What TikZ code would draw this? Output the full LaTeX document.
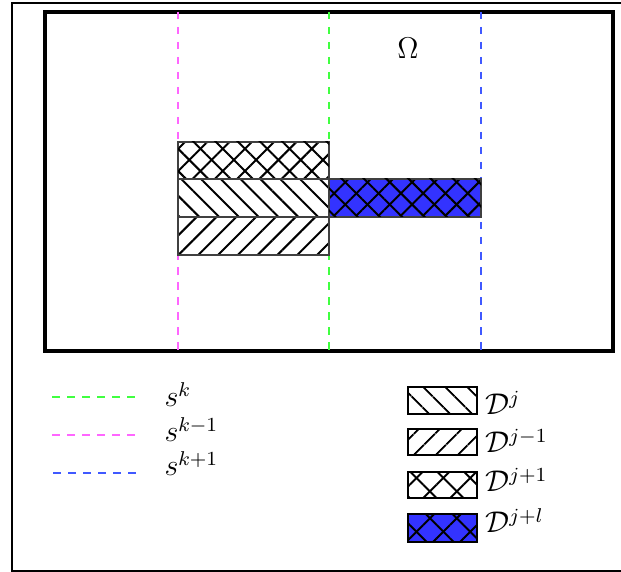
\documentclass[tikz,border=0pt]{standalone}
\usepackage{amsmath, amssymb}
\usepackage{xcolor}
\usepackage{tikz}
\usetikzlibrary{patterns.meta}

\definecolor{xanhla}{rgb}{0.25,1,0.25}
\definecolor{hong}{rgb}{1,0.4,1}
\definecolor{xanhduong}{rgb}{0.25,0.35,1}
\definecolor{xanhdam}{rgb}{0.2,0.2,1}

\tikzset{
    cheotrai/.style={pattern={Lines[angle=-45,distance=#1,line width=0.8pt]}},
    cheotrai/.default=5.6pt,
    cheophai/.style={pattern={Lines[angle=45,distance=#1,line width=0.8pt]}},
    cheophai/.default=5.6pt,
    luoi/.style={cheophai=#1, postaction={cheotrai=#1}},
    luoi/.default=6.3pt,
    oden/.style={draw=black!75, line width=0.8pt},
    vien/.style={draw=black, line width=1pt},
    duongs/.style={dashed, line width=0.75pt},
    nhan/.style={anchor=base west, inner sep=0pt, font=\large}
}

\begin{document}
\begin{tikzpicture}[>=latex, x=0.4pt, y=-0.4pt]
    \useasboundingbox (0,0) rectangle (621,572);
    % 1. Khung ngoài và miền Omega
    \draw[line width=0.9pt] (12,3) rectangle (660,571);
    \draw[line width=1.3pt] (45,12) rectangle (613,351);
    \node[font=\large] (omega) at (408,48) {$\Omega$};

    % 2. Các đường s^k
    \draw[duongs, hong] (178,12) -- (178,351);
    \draw[duongs, xanhla] (329,12) -- (329,351);
    \draw[duongs, xanhduong] (481,12) -- (481,351);

    % 3. Các miền D^j
    \draw[oden, luoi] (178,142) rectangle (329,179);
    \draw[oden, cheotrai] (178,179) rectangle (329,217);
    \draw[oden, cheophai] (178,217) rectangle (329,255);
    \draw[oden, luoi, preaction={fill=xanhdam}] (329,179) rectangle (481,217);

    % 4. Chú thích
    \draw[duongs, xanhla] (52,397) -- (138,397);
    \draw[duongs, hong] (52,435) -- (138,435);
    \draw[duongs, xanhduong] (53,473) -- (140,473);
    \node[nhan] (lsk) at (164,407) {$s^{k}$};
    \node[nhan] (lskm) at (164,442) {$s^{k-1}$};
    \node[nhan] (lskp) at (164,476) {$s^{k+1}$};

    \draw[vien, cheotrai=6.4pt] (408,387) rectangle (477,414);
    \draw[vien, cheophai=6.4pt] (408,429) rectangle (477,455);
    \draw[vien, luoi=7.6pt] (408,472) rectangle (477,498);
    \draw[vien, luoi=7.6pt, preaction={fill=xanhdam}] (408,514) rectangle (477,542);
    \node[nhan] (ldj) at (485,415) {$\mathcal{D}^{j}$};
    \node[nhan] (ldjm) at (485,453) {$\mathcal{D}^{j-1}$};
    \node[nhan] (ldjp) at (485,492) {$\mathcal{D}^{j+1}$};
    \node[nhan] (ldjl) at (485,533) {$\mathcal{D}^{j+l}$};
\end{tikzpicture}
\end{document}
